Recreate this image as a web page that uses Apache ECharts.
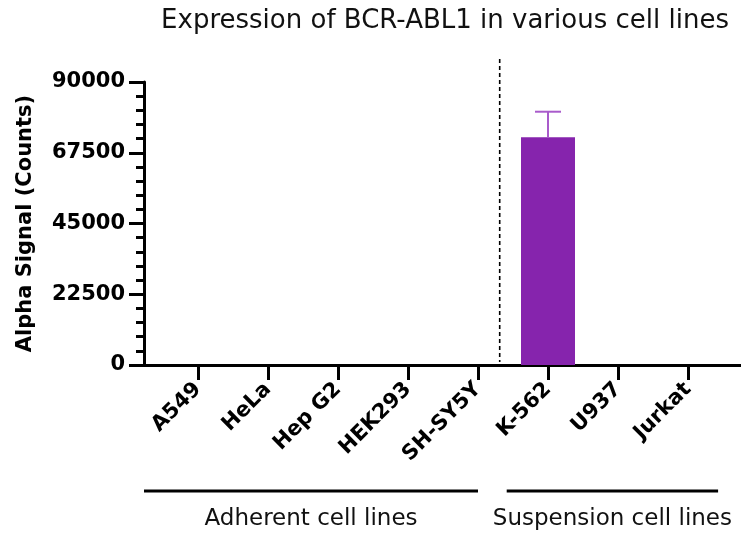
<!DOCTYPE html>
<html>
<head>
<meta charset="utf-8">
<script src="https://cdn.jsdelivr.net/npm/echarts@6/dist/echarts.min.js"></script>
<style>html,body{margin:0;padding:0;background:#fff}#c{width:741px;height:533px}</style>
</head>
<body>
<div id="c"></div>
<script>
const categories = ['A549','HeLa','Hep G2','HEK293','SH-SY5Y','K-562','U937','Jurkat'];
const values = [0,0,0,0,0,72400,0,0];
const errors = [0,0,0,0,0,8150,0,0];
const yTicks = [0,22500,45000,67500,90000];
const groups = [
  {name:'Adherent cell lines', from:0, to:4},
  {name:'Suspension cell lines', from:5, to:7}
];
const titleText = 'Expression of BCR-ABL1 in various cell lines';
const yName = 'Alpha Signal (Counts)';

const chart = echarts.init(document.getElementById('c'), null, {renderer:'canvas'});
const TOP = 82, BOTTOM = 168;
const FONT = 'DejaVu Sans';
const option = {
  animation:false,
  backgroundColor:'#fff',
  title:{text:titleText,left:440,top:3,textAlign:'center',
    textStyle:{fontFamily:FONT,fontWeight:'normal',fontSize:26,color:'#111'}},
  grid:[
    {left:144,right:0,top:TOP,bottom:BOTTOM},
    {left:163,width:560,top:TOP,bottom:BOTTOM}
  ],
  xAxis:[
    {gridIndex:0,type:'value',min:0,max:1,axisLine:{show:true,lineStyle:{color:'#000',width:3}},
      axisTick:{show:false},axisLabel:{show:false},splitLine:{show:false}},
    {gridIndex:1,type:'category',data:categories,boundaryGap:true,
      axisLine:{show:false},
      axisTick:{show:true,alignWithLabel:true,length:15,lineStyle:{color:'#000',width:3}},
      axisLabel:{rotate:45,margin:21,color:'#000',fontFamily:FONT,fontWeight:'bold',fontSize:21,interval:0}}
  ],
  yAxis:[
    {gridIndex:0,type:'value',min:yTicks[0],max:yTicks[yTicks.length-1],interval:yTicks[1]-yTicks[0],
      name:yName,nameLocation:'middle',nameGap:108,
      nameTextStyle:{fontFamily:FONT,fontWeight:'bold',fontSize:21,color:'#000'},
      axisLine:{show:true,lineStyle:{color:'#000',width:3}},
      axisTick:{show:true,length:15,lineStyle:{color:'#000',width:3}},
      minorTick:{show:true,splitNumber:5,length:8,lineStyle:{color:'#000',width:3}},
      axisLabel:{margin:19,color:'#000',fontFamily:FONT,fontWeight:'bold',fontSize:21,formatter:v=>String(v)},
      splitLine:{show:false}},
    {gridIndex:1,type:'value',min:yTicks[0],max:yTicks[yTicks.length-1],show:false}
  ],
  series:[
    {type:'bar',xAxisIndex:1,yAxisIndex:1,data:values,barWidth:54,
      itemStyle:{color:'#8624AD'}},
    {type:'custom',xAxisIndex:1,yAxisIndex:1,clip:false,z:5,
      data:values.map((v,i)=>[i,v,errors[i]]),
      renderItem:function(params,api){
        const e = api.value(2);
        if(!e) return null;
        const p0 = api.coord([api.value(0),api.value(1)]);
        const p1 = api.coord([api.value(0),api.value(1)+e]);
        const st = {stroke:'#A95BCB',lineWidth:2};
        return {type:'group',children:[
          {type:'line',shape:{x1:p0[0],y1:p0[1],x2:p1[0],y2:p1[1]},style:st},
          {type:'line',shape:{x1:p1[0]-13,y1:p1[1],x2:p1[0]+13,y2:p1[1]},style:st}
        ]};
      }}
  ]
};
chart.setOption(option);

// annotations derived from the category axis
const px = i => chart.convertToPixel({xAxisIndex:1,yAxisIndex:1},[i,0]);
const band = px(1)[0]-px(0)[0];
const y0 = px(0)[1];
const sepX = px(4)[0] + band*0.31;
const g1a = 144, g1b = px(groups[0].to)[0];
const g2a = px(groups[1].from)[0] - band*0.59, g2b = px(groups[1].to)[0] + band*0.43;
const lineY = 491, textY = 519;
chart.setOption({graphic:[
  {type:'line',shape:{x1:sepX,y1:59,x2:sepX,y2:y0-3},style:{stroke:'#000',lineWidth:1.6,lineDash:[4,3]}},
  {type:'line',shape:{x1:g1a,y1:lineY,x2:g1b,y2:lineY},style:{stroke:'#000',lineWidth:3}},
  {type:'line',shape:{x1:g2a,y1:lineY,x2:g2b,y2:lineY},style:{stroke:'#000',lineWidth:3}},
  {type:'text',x:(g1a+g1b)/2+0,y:textY,style:{text:groups[0].name,textAlign:'center',textVerticalAlign:'middle',
    fontFamily:FONT,fontSize:23,fill:'#111'}},
  {type:'text',x:(g2a+g2b)/2,y:textY,style:{text:groups[1].name,textAlign:'center',textVerticalAlign:'middle',
    fontFamily:FONT,fontSize:23,fill:'#111'}}
]});
</script>
</body>
</html>
